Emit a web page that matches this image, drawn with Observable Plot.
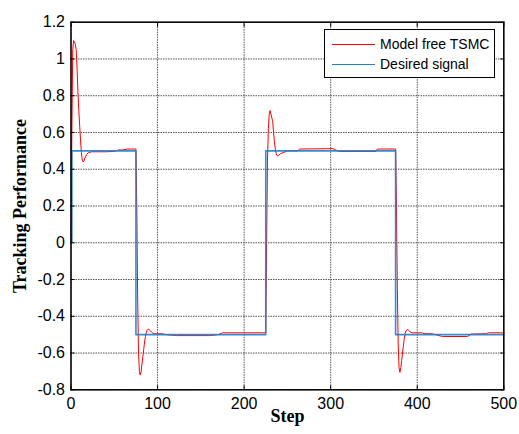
<!DOCTYPE html>
<html><head><meta charset="utf-8">
<script src="https://cdn.jsdelivr.net/npm/d3@7"></script>
<script src="https://cdn.jsdelivr.net/npm/@observablehq/plot@0.6"></script>
<style>
body{margin:0;background:#fff;}
#wrap{position:relative;width:519px;height:434px;overflow:hidden;}
#wrap svg{position:absolute;left:0;top:0;}
g[aria-label="x-axis label"] text, g[aria-label="y-axis label"] text{font-family:"Liberation Serif","Times New Roman",serif;font-weight:bold;font-size:18px;fill:#000;}
#legend{position:absolute;left:324px;top:29px;width:171px;height:49px;border:1px solid #000;background:#fff;font-family:"Liberation Sans",Arial,sans-serif;font-size:14px;color:#000;box-sizing:border-box;}
#legend .row{position:absolute;left:0;height:20px;line-height:20px;white-space:nowrap;}
#legend .sw{position:absolute;left:7px;top:10px;width:43px;height:0;}
#legend .lbl{position:absolute;left:55px;top:0;}
</style></head><body><div id="wrap"></div>
<script>
const seriesNames = ["Model free TSMC", "Desired signal"];
const seriesColors = ["#ff0000", "#1f80cc"];
const xTicks = [0, 100, 200, 300, 400, 500];
const yTicks = [-0.8, -0.6, -0.4, -0.2, 0, 0.2, 0.4, 0.6, 0.8, 1, 1.2];
const xLabel = "Step";
const yLabel = "Tracking Performance";

const desiredStep  = [0, 1, 75, 225, 375, 500];
const desiredValue = [0, 0.5, -0.5, 0.5, -0.5, -0.5];

const tsmcStep = [0, 1, 2, 3, 4, 5, 6, 7, 8, 9, 10, 11, 12, 13, 14, 15, 16, 18, 20, 24, 30, 40, 50, 55, 60, 65, 70, 75,
  76, 77, 78, 79, 80, 81, 82, 83, 84, 85, 86, 87, 88, 89, 90, 92, 94, 96, 105, 110, 122, 160, 170, 175, 200, 222, 225,
  226, 227, 228, 229, 230, 231, 232, 233, 234, 235, 236, 237, 238, 239, 240, 242, 245, 250, 262, 264, 303, 305, 310, 352, 354, 366, 375,
  376, 377, 378, 379, 380, 381, 382, 383, 384, 385, 386, 387, 388, 389, 390, 392, 394, 406, 408, 417, 429, 458, 462, 480, 482, 500];
const tsmcValue = [0, 0.6, 1.05, 1.1, 1.095, 1.08, 1.05, 0.95, 0.82, 0.72, 0.64, 0.56, 0.49, 0.45, 0.44, 0.445, 0.46, 0.48, 0.49, 0.495, 0.495, 0.495, 0.497, 0.505, 0.505, 0.51, 0.51, 0.51,
  0.2, -0.3, -0.6, -0.7, -0.72, -0.7, -0.66, -0.62, -0.58, -0.54, -0.51, -0.49, -0.475, -0.47, -0.472, -0.48, -0.49, -0.495, -0.495, -0.5, -0.505, -0.505, -0.5, -0.49, -0.49, -0.49, -0.49,
  0.0, 0.45, 0.62, 0.7, 0.72, 0.7, 0.68, 0.66, 0.6, 0.55, 0.51, 0.485, 0.475, 0.472, 0.475, 0.485, 0.49, 0.5, 0.5, 0.51, 0.512, 0.506, 0.497, 0.497, 0.51, 0.51, 0.51,
  0.2, -0.25, -0.55, -0.68, -0.705, -0.68, -0.64, -0.6, -0.56, -0.52, -0.495, -0.48, -0.473, -0.472, -0.476, -0.485, -0.49, -0.49, -0.495, -0.495, -0.51, -0.51, -0.497, -0.495, -0.49, -0.49];

const tsmc = tsmcStep.map((s, i) => ({step: s, value: tsmcValue[i]}));
const desired = desiredStep.map((s, i) => ({step: s, value: desiredValue[i]}));
const fmt = d => String(+d.toFixed(1));

const chart = Plot.plot({
  width: 519, height: 434,
  marginLeft: 70.5, marginRight: 15.7, marginTop: 21.7, marginBottom: 44.7,
  style: {fontFamily: "'Liberation Sans', Arial, sans-serif", fontSize: "16px", color: "#000", background: "#fff"},
  x: {domain: [0, 500]},
  y: {domain: [-0.8, 1.2]},
  marks: [
    Plot.gridX(xTicks, {stroke: "#555", strokeOpacity: 1, strokeDasharray: "1.5,1"}),
    Plot.gridY(yTicks, {stroke: "#555", strokeOpacity: 1, strokeDasharray: "1.5,1"}),
    Plot.line(tsmc, {x: "step", y: "value", stroke: seriesColors[0], strokeWidth: 1}),
    Plot.line(desired, {x: "step", y: "value", curve: "step-after", stroke: seriesColors[1], strokeWidth: 1.6, strokeOpacity: 0.9}),
    Plot.frame({stroke: "#000", strokeWidth: 1.5}),
    Plot.axisX(xTicks, {anchor: "bottom", tickSize: -4, tickPadding: 12, tickFormat: fmt, label: xLabel, labelArrow: "none", labelAnchor: "center", labelOffset: 32}),
    Plot.axisX(xTicks, {anchor: "top", tickSize: -4, tickFormat: () => "", label: null}),
    Plot.axisY(yTicks, {anchor: "left", tickSize: -4, tickPadding: 10, tickFormat: fmt, label: yLabel, labelArrow: "none", labelAnchor: "center", labelOffset: 58}),
    Plot.axisY(yTicks, {anchor: "right", tickSize: -4, tickFormat: () => "", label: null})
  ]
});
const wrap = document.getElementById("wrap");
wrap.appendChild(chart);

const legend = document.createElement("div");
legend.id = "legend";
seriesNames.forEach((name, i) => {
  const row = document.createElement("div");
  row.className = "row";
  row.style.top = (4 + i * 20) + "px";
  row.innerHTML = `<span class="sw" style="border-top:1px solid ${seriesColors[i]}"></span><span class="lbl">${name}</span>`;
  legend.appendChild(row);
});
wrap.appendChild(legend);
</script></body></html>
